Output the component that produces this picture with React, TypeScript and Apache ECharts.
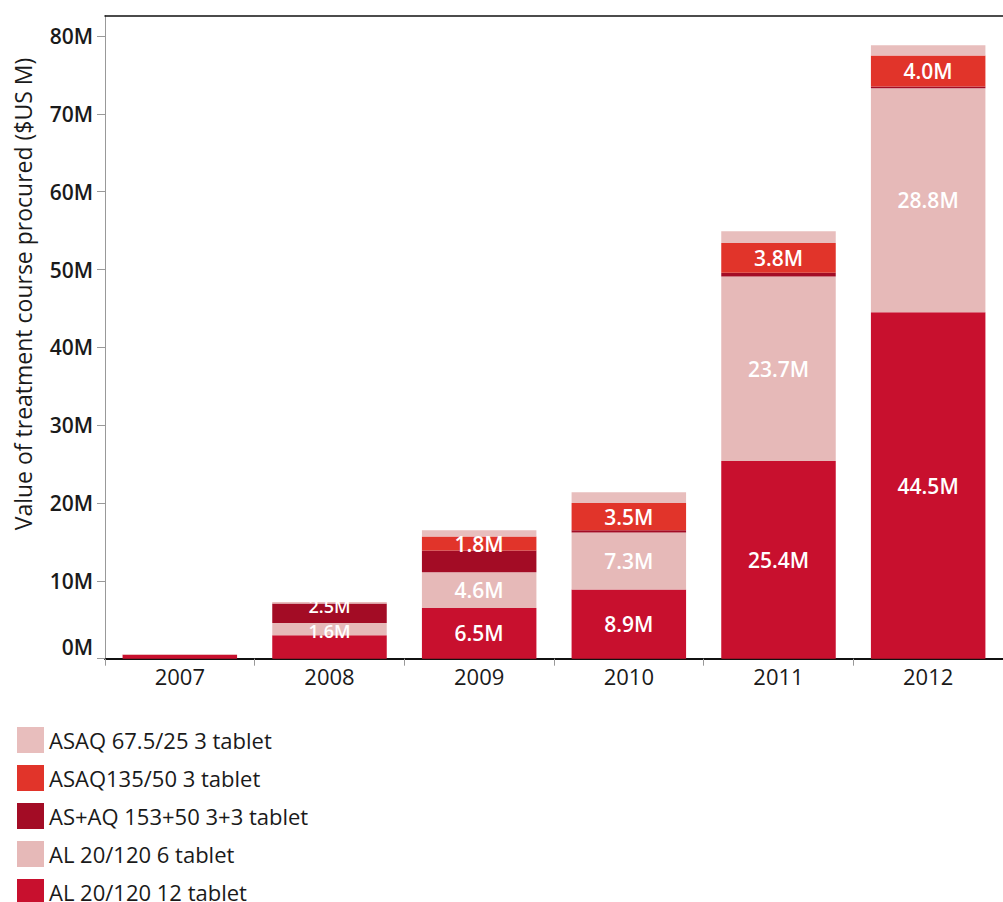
import { useEffect, useRef } from 'react';
import * as echarts from 'echarts';

const years = ['2007', '2008', '2009', '2010', '2011', '2012'];
const seriesNames = [
  'AL 20/120 12 tablet',
  'AL 20/120 6 tablet',
  'AS+AQ 153+50 3+3 tablet',
  'ASAQ135/50 3 tablet',
  'ASAQ 67.5/25 3 tablet',
];
const al12 = [0.5, 3.0, 6.5, 8.9, 25.4, 44.5];
const al6 = [0, 1.6, 4.6, 7.3, 23.7, 28.8];
const asaq153 = [0, 2.5, 2.8, 0.3, 0.5, 0.2];
const asaq135 = [0, 0, 1.8, 3.5, 3.8, 4.0];
const asaq675 = [0.1, 0.2, 0.8, 1.4, 1.5, 1.3];
const yTickValues = [0, 10, 20, 30, 40, 50, 60, 70, 80];
const legendOrder = [
  'ASAQ 67.5/25 3 tablet',
  'ASAQ135/50 3 tablet',
  'AS+AQ 153+50 3+3 tablet',
  'AL 20/120 6 tablet',
  'AL 20/120 12 tablet',
];
const unlabeled: [string, string][] = [
  ['AL 20/120 12 tablet', '2008'],
  ['AS+AQ 153+50 3+3 tablet', '2009'],
  ['ASAQ 67.5/25 3 tablet', '*'],
];
const yTitle = 'Value of treatment course procured ($US M)';

const colors = ['#c8102e', '#e6b9b8', '#a30c25', '#e1342a', '#e8bebd'];
const FONT = 'Open Sans';
// label nudges (styling only)
const labelNudge: Record<string, [number, number]> = {
  'AS+AQ 153+50 3+3 tablet|2008': [0, -7],
  'AL 20/120 6 tablet|2008': [0, 2],
};

export default function App() {
  const ref = useRef<HTMLDivElement>(null);
  useEffect(() => {
    if (!ref.current) return;
    const chart = echarts.init(ref.current, undefined, { renderer: 'svg' });
    const allValues = [al12, al6, asaq153, asaq135, asaq675];
    const gridTop = 15.5;
    const gridBottomY = 658.7;
    const y80 = 36;
    const yMax = (80 * (gridBottomY - gridTop)) / (gridBottomY - y80);

    const series = seriesNames.map((name, si) => ({
      name,
      type: 'bar',
      stack: 'total',
      barCategoryGap: '23.5%',
      itemStyle: { color: colors[si] },
      data: allValues[si].map((v, i) => {
        const hidden = unlabeled.some(
          ([n, y]) => n === name && (y === '*' || y === years[i])
        );
        const nudge = labelNudge[`${name}|${years[i]}`];
        const show = !hidden && v >= 1.55;
        return {
          value: v,
          label: nudge
            ? { show, offset: nudge, fontSize: 18, lineHeight: 17 }
            : { show },
        };
      }),
      label: {
        position: 'inside',
        color: '#ffffff',
        fontFamily: FONT,
        fontSize: 21,
        fontWeight: 600,
        formatter: (p: any) => `${Number(p.value).toFixed(1)}M`,
      },
    }));

    chart.setOption({
      animation: false,
      textStyle: { fontFamily: FONT },
      grid: {
        left: 105,
        top: gridTop,
        width: 909.5,
        bottom: 902 - gridBottomY,
        containLabel: false,
      },
      legend: {
        data: legendOrder,
        orient: 'vertical',
        left: 12,
        top: 722,
        height: 300,
        icon: 'rect',
        itemWidth: 27,
        itemHeight: 26,
        itemGap: 12,
        textStyle: { fontFamily: FONT, fontSize: 22, color: '#1a1a1a' },
        selectedMode: false,
      },
      xAxis: [
        {
          type: 'category',
          data: years,
          axisLine: { show: true, lineStyle: { color: '#111', width: 2 } },
          axisTick: { show: true, length: 7, lineStyle: { color: '#999' } },
          axisLabel: { fontFamily: FONT, fontSize: 22, color: '#1a1a1a', margin: 6 },
        },
        {
          type: 'category',
          data: years,
          position: 'top',
          axisLine: { show: true, lineStyle: { color: '#111', width: 1.5 } },
          axisTick: { show: false },
          axisLabel: { show: false },
        },
      ],
      yAxis: {
        type: 'value',
        min: 0,
        max: yMax,
        interval: 10,
        splitLine: { show: false },
        axisLine: { show: true, lineStyle: { color: '#999', width: 1 } },
        axisTick: { show: true, length: 8, lineStyle: { color: '#999' }, customValues: yTickValues },
        axisLabel: {
          customValues: yTickValues,
          fontFamily: FONT,
          fontSize: 21,
          fontWeight: 600,
          color: '#1a1a1a',
          margin: 12,
          formatter: (v: number) => (v === 0 ? `{z|${v}M}` : `${v}M`),
          rich: {
            z: {
              fontFamily: FONT,
              fontSize: 21,
              fontWeight: 600,
              color: '#1a1a1a',
              padding: [0, 0, 24, 0],
            },
          },
        },
      },
      graphic: [
        {
          type: 'text',
          x: 23,
          y: 294,
          rotation: Math.PI / 2,
          style: {
            text: yTitle,
            fontFamily: FONT,
            fontSize: 23,
            fill: '#1a1a1a',
            textAlign: 'center',
            textVerticalAlign: 'middle',
          },
        },
      ],
      series,
    });
    return () => chart.dispose();
  }, []);
  return (
    <div
      ref={ref}
      style={{ position: 'fixed', left: 0, top: 0, width: 1003, height: 902, background: '#fff' }}
    />
  );
}
